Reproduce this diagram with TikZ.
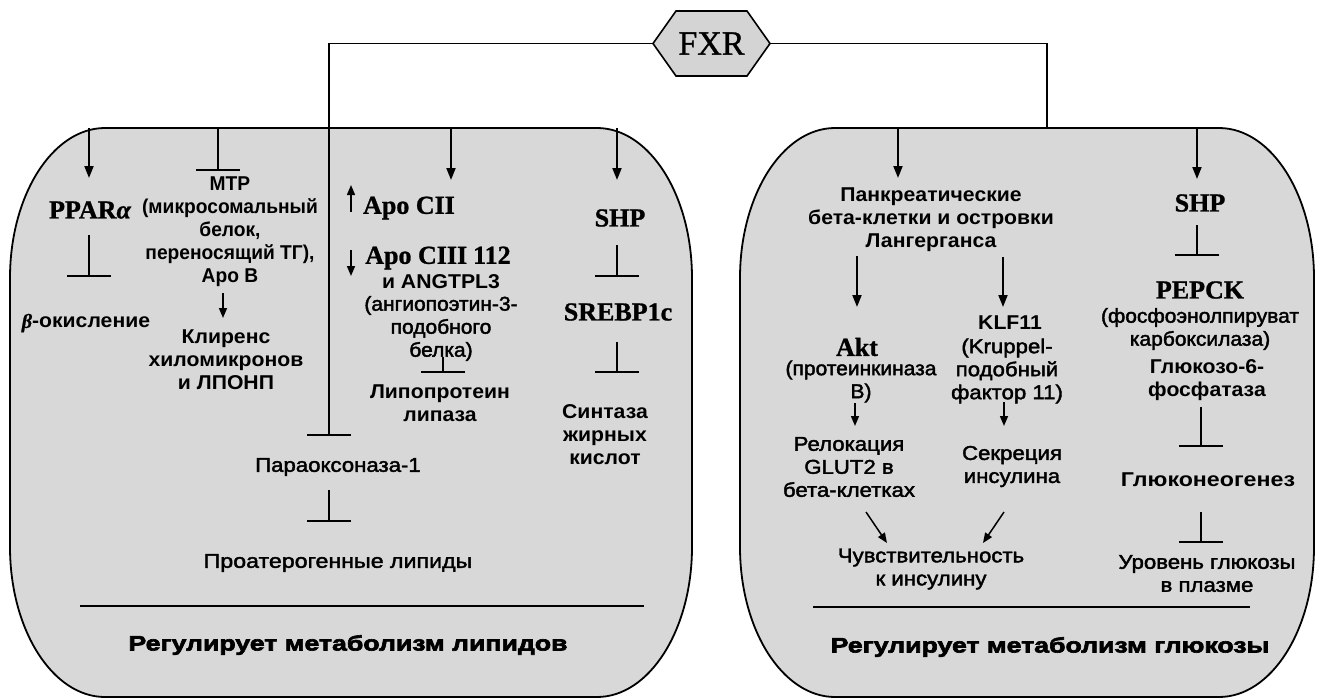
\documentclass[tikz,border=0pt]{standalone}
\usepackage{fontspec}
\setmainfont{Liberation Sans}
\newfontfamily\rgf[FakeStretch=1.11,FakeBold=2]{Liberation Sans}
\newfontfamily\rgnf[FakeStretch=1.05,FakeBold=2]{Liberation Sans}
\newfontfamily\rgwf[FakeStretch=1.16,FakeBold=2]{Liberation Sans}
\newfontfamily\bdf[FakeStretch=1.06]{Liberation Sans}
\newfontfamily\bdnf[FakeStretch=0.96]{Liberation Sans}
\newfontfamily\bdwf[FakeStretch=1.16]{Liberation Sans}
\newfontfamily\ttlf[FakeStretch=1.27,FakeBold=3]{Liberation Sans}
\newfontfamily\srf[FakeBold=1]{Liberation Serif}
\usetikzlibrary{arrows.meta}
\definecolor{boxgray}{RGB}{216,216,216}
\definecolor{hexgray}{RGB}{212,212,212}
\newcommand\rpanel[4]{%
  \draw[panel] (#1,{#2+150}) .. controls (#1,{#2+67.2}) and ({#1+42.6},#2) .. ({#1+95},#2)
    -- ({#3-95},#2) .. controls ({#3-42.6},#2) and (#3,{#2+67.2}) .. (#3,{#2+150})
    -- (#3,{#4-150}) .. controls (#3,{#4-67.2}) and ({#3-42.6},#4) .. ({#3-95},#4)
    -- ({#1+95},#4) .. controls ({#1+42.6},#4) and (#1,{#4-67.2}) .. (#1,{#4-150}) -- cycle;}
\tikzset{
  rg/.style={font=\rgf\fontsize{20}{23}\selectfont, align=center, inner sep=0pt},
  rgn/.style={font=\rgnf\fontsize{20}{23}\selectfont, align=center, inner sep=0pt},
  rgw/.style={font=\rgwf\fontsize{20}{23}\selectfont, align=center, inner sep=0pt},
  bd/.style={font=\bdf\bfseries\fontsize{20}{23}\selectfont, align=center, inner sep=0pt},
  bdn/.style={font=\bdnf\bfseries\fontsize{20}{23}\selectfont, align=center, inner sep=0pt},
  bdw/.style={font=\bdwf\bfseries\fontsize{20}{23}\selectfont, align=center, inner sep=0pt},
  sr/.style={font=\srf\bfseries\fontsize{26}{28}\selectfont, inner sep=0pt},
  ttl/.style={font=\ttlf\bfseries\fontsize{21}{24}\selectfont, inner sep=0pt},
  ln/.style={line width=1.9pt},
  arr/.style={ln, -{Triangle[length=12pt,width=9pt]}},
  sarr/.style={line width=1.5pt, -{Triangle[length=10pt,width=8pt]}},
  inh/.style={ln, -{Bar[width=44pt]}},
  panel/.style={draw, line width=1.8pt, fill=boxgray},
}
\begin{document}
\begin{tikzpicture}[x=1pt,y=-1pt]
\useasboundingbox[fill=white] (0,0) rectangle (1318,699);
% panels
\rpanel{10}{128}{692}{697}
\rpanel{740}{128}{1314}{697}
% FXR
\draw[line width=1.6pt, fill=hexgray] (653,43.5) -- (676,11) -- (747,11) -- (770,43.5) -- (747,76) -- (676,76) -- cycle;
\node[minimum width=117pt, minimum height=65pt, inner sep=0pt, font=\srf\fontsize{34}{36}\selectfont] (fxr) at (711.5,43.5) {FXR};
% coordinates
\coordinate (pbar) at (329,436);
\coordinate (rtop) at (1047,128);
\coordinate (t1) at (89,128);
\coordinate (t2) at (218,128);
\coordinate (t4) at (451,128);
\coordinate (t5) at (617,128);
\coordinate (t6) at (898,128);
\coordinate (t7) at (1197,128);
\coordinate (p1) at (89,178);
\coordinate (p2) at (218,171);
\coordinate (p4) at (451,180);
\coordinate (p5) at (617,180);
\coordinate (p6) at (898,178);
\coordinate (p7) at (1197,179);
% left panel nodes
\node[sr] (ppar) at (90,210) {PPAR{\itshape α}};
\node[bd] (beta) at (86,323) {{\srf\itshape β}-окисление};
\node[bdn] (mtp) at (230,232) {MTP\\(микросомальный\\белок,\\переносящий ТГ),\\Apo B};
\node[bd] (clr) at (226,360) {Клиренс\\хиломикронов\\и ЛПОНП};
\node[sr] (apo2) at (409,208) {Apo CII};
\node[sr] (apo3) at (438,258) {Apo CIII\hspace{6pt}112};
\node[bd] (angn) at (441,282) {и ANGTPL3};
\node[rgn] (angd) at (441,328.5) {(ангиопоэтин-3-\\подобного\\белка)};
\node[bd] (lpl) at (440,403.5) {Липопротеин\\липаза};
\node[rg] (para) at (338,467) {Параоксоназа-1};
\node[rgw] (proat) at (338,563) {Проатерогенные липиды};
\node[sr] (shpa) at (620,218) {SHP};
\node[sr] (srebp) at (618,312) {SREBP1c};
\node[bd] (fas) at (605,434.5) {Синтаза\\жирных\\кислот};
\node[ttl] (ttl1) at (348,645) {Регулирует метаболизм липидов};
\coordinate (r1a) at (80,606);
\coordinate (r1b) at (644,606);
% right panel nodes
\node[bd] (panc) at (931,220) {Панкреатические\\бета-клетки и островки\\Лангерганса};
\node[sr] (akt) at (857,347) {Akt};
\node[rgn] (pkb) at (861,381.5) {(протеинкиназа\\B)};
\node[bd] (klf) at (1010,323) {KLF11};
\node[rg] (krp) at (1007,371) {(Kruppel-\\подобный\\фактор 11)};
\node[rg] (glut) at (849,467) {Релокация\\GLUT2 в\\бета-клетках};
\node[rg] (secr) at (1012,466.5) {Секреция\\инсулина};
\node[rg] (sens) at (931,569) {Чувствительность\\к инсулину};
\node[sr] (shpb) at (1200,203) {SHP};
\node[sr] (pepck) at (1200,290) {PEPCK};
\node[rgn] (pepf) at (1200,329) {(фосфоэнолпируват\\карбоксилаза)};
\node[bd] (g6p) at (1207,380) {Глюкозо-6-\\фосфатаза};
\node[bdw] (gng) at (1208,480) {Глюконеогенез};
\node[rg] (glu) at (1207,573.5) {Уровень глюкозы\\в плазме};
\node[ttl] (ttl2) at (1050,647) {Регулирует метаболизм глюкозы};
\coordinate (r2a) at (813,607);
\coordinate (r2b) at (1250,607);
% FXR connectors
\draw[inh] (fxr.west) -| (pbar);
\draw[ln] (fxr.east) -| (rtop);
% top arrows
\draw[arr] (t1) -- (p1);
\draw[inh] (t2) -- (p2);
\draw[arr] (t4) -- (p4);
\draw[arr] (t5) -- (p5);
\draw[arr] (t6) -- (p6);
\draw[arr] (t7) -- (p7);
% inner connectors, left
\coordinate (a1) at (89,235);   \coordinate (b1) at (89,277);
\draw[inh] (a1) -- (b1);
\coordinate (a2) at (223,293);  \coordinate (b2) at (223,318);
\draw[sarr] (a2) -- (b2);
\coordinate (a3) at (443,357);  \coordinate (b3) at (443,373);
\draw[inh] (a3) -- (b3);
\coordinate (a4) at (617,245);  \coordinate (b4) at (617,277);
\draw[inh] (a4) -- (b4);
\coordinate (a5) at (617,342);  \coordinate (b5) at (617,373);
\draw[inh] (a5) -- (b5);
\coordinate (a6) at (329,490);  \coordinate (b6) at (329,522);
\draw[inh] (a6) -- (b6);
\coordinate (a7) at (351,212);  \coordinate (b7) at (351,185);
\draw[sarr] (a7) -- (b7);
\coordinate (a8) at (351,250);  \coordinate (b8) at (351,276);
\draw[sarr] (a8) -- (b8);
\draw[ln] (r1a) -- (r1b);
% inner connectors, right
\coordinate (c1) at (857,256);  \coordinate (d1) at (857,307);
\draw[arr] (c1) -- (d1);
\coordinate (c2) at (1003,257); \coordinate (d2) at (1003,307);
\draw[arr] (c2) -- (d2);
\coordinate (c3) at (855,403);  \coordinate (d3) at (855,426);
\draw[sarr] (c3) -- (d3);
\coordinate (c4) at (1004,402); \coordinate (d4) at (1004,426);
\draw[sarr] (c4) -- (d4);
\coordinate (c5) at (866,512);  \coordinate (d5) at (887,543);
\draw[sarr] (c5) -- (d5);
\coordinate (c6) at (1004,512); \coordinate (d6) at (983,543);
\draw[sarr] (c6) -- (d6);
\coordinate (c7) at (1197,225); \coordinate (d7) at (1197,256);
\draw[inh] (c7) -- (d7);
\coordinate (c8) at (1201,407); \coordinate (d8) at (1201,447);
\draw[inh] (c8) -- (d8);
\coordinate (c9) at (1201,512); \coordinate (d9) at (1201,543);
\draw[inh] (c9) -- (d9);
\draw[ln] (r2a) -- (r2b);
\end{tikzpicture}
\end{document}
